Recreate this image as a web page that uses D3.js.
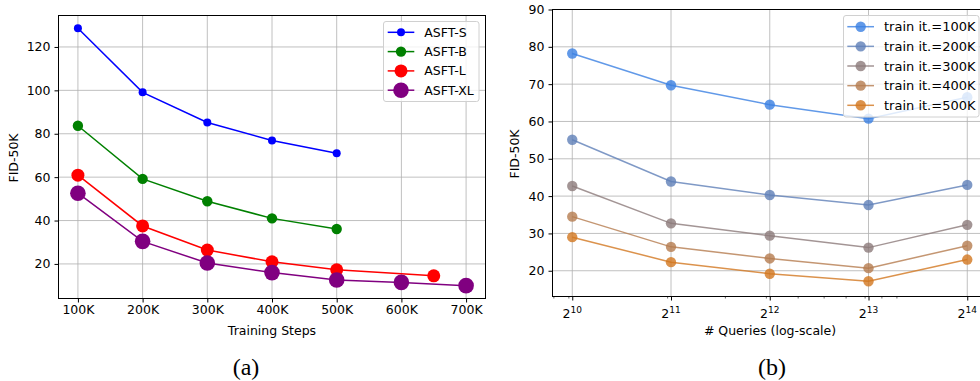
<!DOCTYPE html>
<html><head><meta charset="utf-8">
<script src="https://cdn.jsdelivr.net/npm/d3@7"></script>
<style>
body{margin:0;background:#fff;}
svg{display:block;font-family:"DejaVu Sans",sans-serif;}
</style></head>
<body><svg id="c" width="980" height="381"></svg>
<script>
// ---- Panel (a) data ----
const stepTicks = [100000,200000,300000,400000,500000,600000,700000];
const stepTickLabels = ["100K","200K","300K","400K","500K","600K","700K"];
const yTicksA = [20,40,60,80,100,120];
const seriesNamesA = ["ASFT-S","ASFT-B","ASFT-L","ASFT-XL"];
const asftS = [[100000,128.6],[200000,99.1],[300000,85.2],[400000,76.9],[500000,71.0]];
const asftB = [[100000,83.7],[200000,59.2],[300000,48.9],[400000,41.0],[500000,36.1]];
const asftL = [[100000,60.9],[200000,37.5],[300000,26.4],[400000,21.0],[500000,17.3],[650000,14.5]];
const asftXL = [[100000,52.6],[200000,30.4],[300000,20.4],[400000,16.0],[500000,12.6],[600000,11.5],[700000,10.0]];
const colorsA = ["#0000ff","#008000","#ff0000","#800080"];
const radiiA = [4,5.2,6.5,7.8];

// ---- Panel (b) data ----
const queries = [1024,2048,4096,8192,16384];
const queryExps = ["10","11","12","13","14"];
const minorQ = [900,1000,2000,3000,4000,5000,6000,7000,8000,9000,10000];
const yTicksB = [20,30,40,50,60,70,80,90];
const seriesNamesB = ["train it.=100K","train it.=200K","train it.=300K","train it.=400K","train it.=500K"];
const it100 = [78.2,69.7,64.5,60.75,66.5];
const it200 = [55.1,43.9,40.3,37.6,43.0];
const it300 = [42.7,32.7,29.4,26.2,32.3];
const it400 = [34.5,26.4,23.3,20.7,26.7];
const it500 = [29.0,22.3,19.2,17.2,23.0];
const colorsB = ["#3a7fe2","#5f7fb8","#8c7b7a","#b57c4f","#d2771f"];

const svg = d3.select("#c");
const FS = 12.5;

function grid(g, xs, ys, x, y) {
  g.selectAll(null).data(xs).enter().append("line")
    .attr("x1", d=>x(d)).attr("x2", d=>x(d))
    .attr("y1", y.range()[0]).attr("y2", y.range()[1])
    .attr("stroke","#b0b0b0").attr("stroke-width",0.8);
  g.selectAll(null).data(ys).enter().append("line")
    .attr("y1", d=>y(d)).attr("y2", d=>y(d))
    .attr("x1", x.range()[0]).attr("x2", x.range()[1])
    .attr("stroke","#b0b0b0").attr("stroke-width",0.8);
}

// ================= Panel (a) =================
{
  const x = d3.scaleLinear().domain([70000,730000]).range([58.5,485.5]);
  const y = d3.scaleLinear().domain([4.07,134.5]).range([298.5,15.5]);
  const g = svg.append("g");
  grid(g, stepTicks, yTicksA, x, y);
  const line = d3.line().x(d=>x(d[0])).y(d=>y(d[1]));
  [asftS, asftB, asftL, asftXL].forEach((s,i)=>{
    g.append("path").attr("d", line(s)).attr("fill","none")
      .attr("stroke",colorsA[i]).attr("stroke-width",1.5);
    g.selectAll(null).data(s).enter().append("circle")
      .attr("cx",d=>x(d[0])).attr("cy",d=>y(d[1])).attr("r",radiiA[i])
      .attr("fill",colorsA[i]);
  });
  const ax = g.append("g").attr("transform",`translate(0,${y.range()[0]})`)
    .call(d3.axisBottom(x).tickValues(stepTicks).tickFormat((d,i)=>stepTickLabels[i]).tickSize(4).tickPadding(3));
  const ay = g.append("g").attr("transform",`translate(${x.range()[0]},0)`)
    .call(d3.axisLeft(y).tickValues(yTicksA).tickSize(4).tickPadding(4));
  [ax,ay].forEach(a=>{a.select(".domain").remove(); a.selectAll("text").attr("font-size",FS).attr("font-family","DejaVu Sans").attr("fill","#000");});
  g.append("rect").attr("x",x.range()[0]).attr("y",y.range()[1])
    .attr("width",x.range()[1]-x.range()[0]).attr("height",y.range()[0]-y.range()[1])
    .attr("fill","none").attr("stroke","#000").attr("stroke-width",1);
  g.append("text").attr("x",272).attr("y",335).attr("text-anchor","middle")
    .attr("font-size",FS).text("Training Steps");
  g.append("text").attr("transform","translate(18,158) rotate(-90)").attr("text-anchor","middle")
    .attr("font-size",FS).text("FID-50K");
  const lg = g.append("g");
  lg.append("rect").attr("x",383.5).attr("y",21.5).attr("width",95.5).attr("height",80)
    .attr("rx",2.5).attr("fill","#fff").attr("fill-opacity",0.8).attr("stroke","#d0d0d0").attr("stroke-width",1);
  seriesNamesA.forEach((n,i)=>{
    const yy = 32.3 + i*19.3;
    lg.append("line").attr("x1",387.7).attr("x2",414.3).attr("y1",yy).attr("y2",yy)
      .attr("stroke",colorsA[i]).attr("stroke-width",1.5);
    lg.append("circle").attr("cx",401).attr("cy",yy).attr("r",radiiA[i]).attr("fill",colorsA[i]);
    lg.append("text").attr("x",424.3).attr("y",yy).attr("dy","0.36em").attr("font-size",FS).text(n);
  });
  svg.append("text").attr("x",246).attr("y",375).attr("text-anchor","middle")
    .attr("font-family","Liberation Serif, serif").attr("font-size",24).text("(a)");
}

// ================= Panel (b) =================
{
  const x = d3.scaleLog().base(2).domain([Math.pow(2,9.8),Math.pow(2,14.2)]).range([552.5,987]);
  const y = d3.scaleLinear().domain([13.1,90]).range([296.5,9.5]);
  const g = svg.append("g");
  grid(g, queries, yTicksB, x, y);
  const all = [it100,it200,it300,it400,it500];
  const line = d3.line().x((d,i)=>x(queries[i])).y(d=>y(d));
  all.forEach((s,i)=>{
    g.append("path").attr("d", line(s)).attr("fill","none")
      .attr("stroke",colorsB[i]).attr("stroke-opacity",0.8).attr("stroke-width",1.5);
    g.selectAll(null).data(s).enter().append("circle")
      .attr("cx",(d,j)=>x(queries[j])).attr("cy",d=>y(d)).attr("r",5.2)
      .attr("fill",colorsB[i]).attr("fill-opacity",0.8);
  });
  g.selectAll(null).data(minorQ).enter().append("line")
    .attr("x1",d=>x(d)).attr("x2",d=>x(d)).attr("y1",y.range()[0]).attr("y2",y.range()[0]+2)
    .attr("stroke","#000").attr("stroke-width",0.6);
  const ax = g.append("g").attr("transform",`translate(0,${y.range()[0]})`)
    .call(d3.axisBottom(x).tickValues(queries).tickFormat("").tickSize(4));
  ax.select(".domain").remove();
  const tl = g.selectAll(null).data(queries).enter().append("text")
    .attr("x",d=>x(d)).attr("y",318).attr("text-anchor","middle").attr("font-size",FS);
  tl.append("tspan").text("2");
  tl.append("tspan").attr("dy",-5).attr("font-size",9).text((d,i)=>queryExps[i]);
  const ay = g.append("g").attr("transform",`translate(${x.range()[0]},0)`)
    .call(d3.axisLeft(y).tickValues(yTicksB).tickSize(4).tickPadding(4));
  ay.select(".domain").remove();
  ay.selectAll("text").attr("font-size",FS).attr("font-family","DejaVu Sans").attr("fill","#000");
  g.append("rect").attr("x",x.range()[0]).attr("y",y.range()[1])
    .attr("width",x.range()[1]-x.range()[0]).attr("height",y.range()[0]-y.range()[1])
    .attr("fill","none").attr("stroke","#000").attr("stroke-width",1);
  g.append("text").attr("x",770).attr("y",335).attr("text-anchor","middle")
    .attr("font-size",FS).text("# Queries (log-scale)");
  g.append("text").attr("transform","translate(519,154) rotate(-90)").attr("text-anchor","middle")
    .attr("font-size",FS).text("FID-50K");
  const lg = g.append("g");
  lg.append("rect").attr("x",843.5).attr("y",15.5).attr("width",135.5).attr("height",101.5)
    .attr("rx",2.5).attr("fill","#fff").attr("fill-opacity",0.8).attr("stroke","#d0d0d0").attr("stroke-width",1);
  seriesNamesB.forEach((n,i)=>{
    const yy = 26.7 + i*19.65;
    lg.append("line").attr("x1",847.3).attr("x2",874).attr("y1",yy).attr("y2",yy)
      .attr("stroke",colorsB[i]).attr("stroke-opacity",0.8).attr("stroke-width",1.5);
    lg.append("circle").attr("cx",860.7).attr("cy",yy).attr("r",5.2).attr("fill",colorsB[i]).attr("fill-opacity",0.8);
    lg.append("text").attr("x",884).attr("y",yy).attr("dy","0.36em").attr("font-size",13).text(n);
  });
  svg.append("text").attr("x",772).attr("y",375).attr("text-anchor","middle")
    .attr("font-family","Liberation Serif, serif").attr("font-size",24).text("(b)");
}
</script></body></html>
